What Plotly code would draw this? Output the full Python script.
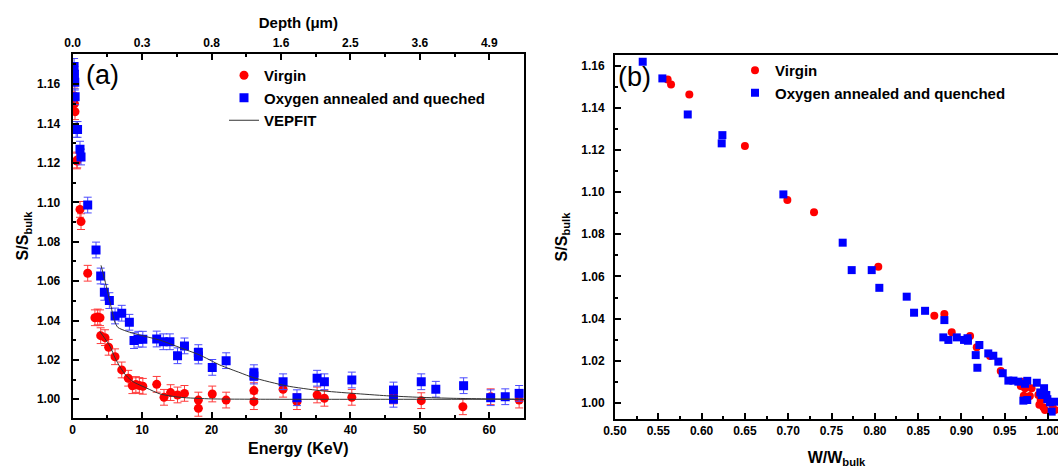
import plotly.graph_objects as go

# ---------------- Panel (a) data: S/Sbulk vs positron energy ----------------
energy_virgin = [0.2, 0.25, 0.33, 0.6, 0.65, 1.05, 1.2, 2.16, 3.2, 3.6, 3.93, 4.03, 4.65, 5.18, 6.1, 7.06,
                 8.0, 8.6, 9.1, 9.6, 10.1, 12.1, 13.15, 14.1, 15.1, 16.1, 18.1, 18.1, 20.1, 22.1, 26.1,
                 26.1, 30.3, 32.3, 35.2, 36.25, 40.2, 46.2, 50.2, 56.2, 60.2, 64.3]
s_virgin = [1.154, 1.150, 1.146, 1.121, 1.1215, 1.0964, 1.0902, 1.064, 1.0414, 1.0418, 1.0414, 1.0323,
            1.0313, 1.0264, 1.0216, 1.0149, 1.0107, 1.0069, 1.0075, 1.0070, 1.0066, 1.0076, 1.001, 1.0034,
            1.0022, 1.003, 0.9996, 0.9954, 1.0027, 0.9996, 1.0044, 0.9988, 1.0051, 0.9988, 1.0022, 1.0005,
            1.001, 1.0017, 0.9993, 0.9962, 1.0013, 0.9996]

energy_oxygen = [0.2, 0.25, 0.3, 0.35, 0.5, 0.7, 1.05, 1.2, 2.16, 3.36, 4.03, 4.56, 5.28, 6.1, 7.06, 8.16,
                 8.83, 9.45, 10.1, 12.1, 13.05, 14.0, 15.1, 16.1, 18.1, 18.1, 20.1, 22.1, 26.1, 26.1, 30.3,
                 32.3, 35.2, 36.25, 40.2, 46.2, 46.2, 50.2, 52.3, 56.3, 60.2, 62.3, 64.3]
s_oxygen = [1.169, 1.165, 1.161, 1.1536, 1.137, 1.137, 1.127, 1.123, 1.0986, 1.0758, 1.0626, 1.0543,
            1.0501, 1.0423, 1.0437, 1.0391, 1.0298, 1.0305, 1.0305, 1.0306, 1.0292, 1.0292, 1.0221, 1.0271,
            1.0237, 1.022, 1.0162, 1.0196, 1.0135, 1.0118, 1.0089, 1.0008, 1.0107, 1.0089, 1.0098, 1.0047,
            1.000, 1.0089, 1.0051, 1.0069, 1.0008, 1.0013, 1.003]
s_error = 0.004

fit_virgin_e = [3.9, 4.6, 5.4, 6.1, 6.8, 7.7, 8.7, 10.7, 12.6, 15.5, 20.0, 30.0, 45.0, 65.0]
fit_virgin_s = [1.0345, 1.031, 1.0267, 1.021, 1.0165, 1.012, 1.0089, 1.0056, 1.0027, 1.001, 1.0002,
                1.0, 1.0, 1.0]
fit_oxygen_e = [4.08, 4.8, 5.4, 6.0, 6.5, 7.8, 9.7, 12.6, 14.5, 16.4, 18.3, 21.2, 24.1, 26.0, 30.8,
                35.6, 40.4, 45.2, 50.0, 54.8, 60.0, 65.0]
fit_oxygen_s = [1.068, 1.058, 1.049, 1.040, 1.0365, 1.0345, 1.0326, 1.030, 1.0275, 1.025, 1.0225,
                1.0174, 1.0135, 1.011, 1.0068, 1.0044, 1.003, 1.0018, 1.001, 1.0005, 1.0002, 1.0]

energy_ticks = [0, 10, 20, 30, 40, 50, 60]
depth_labels = ["0.0", "0.3", "0.8", "1.6", "2.5", "3.6", "4.9"]

# ---------------- Panel (b) data: S vs W ----------------
w_virgin = [0.5608, 0.5647, 0.5858, 0.650, 0.699, 0.7298, 0.804, 0.8687, 0.8803, 0.8888, 0.910, 0.9177,
            0.933, 0.9454, 0.9696, 0.9685, 0.9734, 0.972, 0.981, 0.979, 0.9888, 0.9915, 0.990, 0.9946,
            0.9965, 1.0023, 1.005, 1.008]
sw_virgin = [1.1534, 1.151, 1.1463, 1.1218, 1.0962, 1.0904, 1.0646, 1.0414, 1.0422, 1.0335, 1.0318,
             1.0264, 1.0223, 1.0152, 1.0101, 1.0081, 1.007, 1.0034, 1.007, 1.0033, 1.0038, 1.0014, 0.9991,
             0.998, 0.9967, 1.0006, 0.999, 0.9967]
w_oxygen = [0.532, 0.5547, 0.584, 0.624, 0.6232, 0.6944, 0.7629, 0.7733, 0.7964, 0.8052, 0.8368, 0.8453,
            0.858, 0.8803, 0.8791, 0.8849, 0.8946, 0.903, 0.907, 0.9075, 0.9207, 0.9165, 0.9184, 0.931,
            0.9368, 0.9426, 0.9477, 0.9542, 0.960, 0.9657, 0.9734, 0.976, 0.9715, 0.976, 0.987, 0.991,
            0.9954, 0.9927, 0.998, 0.9992, 1.0023, 1.0042, 1.008]
sw_oxygen = [1.1618, 1.1539, 1.1368, 1.127, 1.1231, 1.0989, 1.076, 1.063, 1.063, 1.0546, 1.0504, 1.0428,
             1.0437, 1.0393, 1.0311, 1.0299, 1.0311, 1.0299, 1.0307, 1.0295, 1.0275, 1.0227, 1.0167,
             1.0235, 1.0224, 1.0196, 1.0141, 1.0106, 1.0106, 1.0101, 1.0091, 1.0105, 1.0011, 1.0014,
             1.0096, 1.005, 1.007, 1.0038, 1.0038, 1.0018, 1.0003, 0.9959, 1.0006]

RED = "#ff0000"
BLUE = "#0000ff"
FONT = "Liberation Sans, Arial, sans-serif"
W, H = 1058, 472

fig = go.Figure()

# Panel (a)
fig.add_trace(go.Scatter(x=energy_virgin, y=s_virgin, mode="markers", name="Virgin",
                         marker=dict(symbol="circle", size=9, color=RED),
                         error_y=dict(type="constant", value=s_error, color="#ff3b3b", thickness=1, width=4),
                         xaxis="x", yaxis="y", legend="legend"))
fig.add_trace(go.Scatter(x=energy_oxygen, y=s_oxygen, mode="markers", name="Oxygen annealed and queched",
                         marker=dict(symbol="square", size=9, color=BLUE),
                         error_y=dict(type="constant", value=s_error, color="#4a4aff", thickness=1, width=4),
                         xaxis="x", yaxis="y", legend="legend"))
fig.add_trace(go.Scatter(x=fit_oxygen_e, y=fit_oxygen_s, mode="lines", name="VEPFIT",
                         line=dict(color="#333333", width=1, shape="spline", smoothing=0.6),
                         xaxis="x", yaxis="y", legend="legend"))
fig.add_trace(go.Scatter(x=fit_virgin_e, y=fit_virgin_s, mode="lines", name="VEPFIT", showlegend=False,
                         line=dict(color="#333333", width=1, shape="spline", smoothing=0.6),
                         xaxis="x", yaxis="y"))
# invisible trace to show the depth axis
fig.add_trace(go.Scatter(x=[0, 65], y=[None, None], mode="markers", showlegend=False,
                         hoverinfo="skip", xaxis="x3", yaxis="y"))

# Panel (b)
fig.add_trace(go.Scatter(x=w_virgin, y=sw_virgin, mode="markers", name="Virgin",
                         marker=dict(symbol="circle", size=8, color=RED),
                         xaxis="x2", yaxis="y2", legend="legend2"))
fig.add_trace(go.Scatter(x=w_oxygen, y=sw_oxygen, mode="markers", name="Oxygen annealed and quenched",
                         marker=dict(symbol="square", size=8, color=BLUE),
                         xaxis="x2", yaxis="y2", legend="legend2"))

tickfont = dict(family=FONT, size=12, color="black", weight="bold")
titlefont = dict(family=FONT, size=16, color="black", weight="bold")
common = dict(showline=True, linecolor="black", linewidth=2, ticks="inside", ticklen=6, tickwidth=1.5,
              tickcolor="black", showgrid=False, zeroline=False, tickfont=tickfont, automargin=False)

ax_a = (72.7 / W, 524 / W)
ay_a = (1 - 418 / H, 1 - 54 / H)
ax_b = (615 / W, 1.0)
ay_b = (1 - 419 / H, 1 - 55 / H)

fig.update_layout(
    width=W, height=H, margin=dict(l=0, r=0, t=0, b=0, autoexpand=False),
    paper_bgcolor="white", plot_bgcolor="white",
    font=dict(family=FONT, color="black"),
    xaxis=dict(domain=ax_a, anchor="y", range=[0, 65], dtick=10, tick0=0, mirror=True,
               minor=dict(dtick=5, ticks="inside", ticklen=3, tickcolor="black"),
               title=dict(text="Energy (KeV)", font=titlefont, standoff=6), **common),
    yaxis=dict(domain=ay_a, anchor="x", range=[0.9905, 1.1753], dtick=0.02, tick0=1.0, tickformat=".2f",
               mirror=True, ticklabelstandoff=8,
               minor=dict(dtick=0.01, ticks="inside", ticklen=3, tickcolor="black"),
               title=dict(text="S/S<sub>bulk</sub>", font=titlefont, standoff=4), **common),
    xaxis3=dict(overlaying="x", anchor="y", side="top", range=[0, 65], tickmode="array",
                tickvals=energy_ticks, ticktext=depth_labels,
                minor=dict(tickvals=[5, 15, 25, 35, 45, 55], ticks="inside", ticklen=3, tickcolor="black"),
                title=dict(text="Depth (μm)", font=dict(family=FONT, size=15, color="black", weight="bold"),
                           standoff=4), **common),
    xaxis2=dict(domain=ax_b, anchor="y2", range=[0.5, 1.0115], dtick=0.05, tick0=0.5, tickformat=".2f",
                mirror=True, ticklabeloverflow="allow",
                minor=dict(dtick=0.025, ticks="inside", ticklen=3, tickcolor="black"),
                title=dict(text="W/W<sub>bulk</sub>", font=titlefont, standoff=14), **common),
    yaxis2=dict(domain=ay_b, anchor="x2", range=[0.9924, 1.165], dtick=0.02, tick0=1.0, tickformat=".2f",
                mirror=False, ticklabelstandoff=6,
                minor=dict(dtick=0.01, ticks="inside", ticklen=3, tickcolor="black"),
                title=dict(text="S/S<sub>bulk</sub>", font=titlefont, standoff=10), **common),
    legend=dict(x=224 / W, y=1 - 59 / H, xanchor="left", yanchor="top", bgcolor="rgba(0,0,0,0)",
                font=dict(family=FONT, size=15, color="black", weight="bold"), tracegroupgap=0,
                itemwidth=30),
    legend2=dict(x=735 / W, y=1 - 54 / H, xanchor="left", yanchor="top", bgcolor="rgba(0,0,0,0)",
                 font=dict(family=FONT, size=15, color="black", weight="bold"), tracegroupgap=0,
                 itemwidth=30),
    annotations=[
        dict(text="(a)", x=84 / W, y=1 - 75 / H, xref="paper", yref="paper", xanchor="left",
             yanchor="middle", showarrow=False, font=dict(family=FONT, size=27, color="black")),
        dict(text="(b)", x=616 / W, y=1 - 77 / H, xref="paper", yref="paper", xanchor="left",
             yanchor="middle", showarrow=False, font=dict(family=FONT, size=27, color="black")),
    ],
)

fig.write_html("out.html")
